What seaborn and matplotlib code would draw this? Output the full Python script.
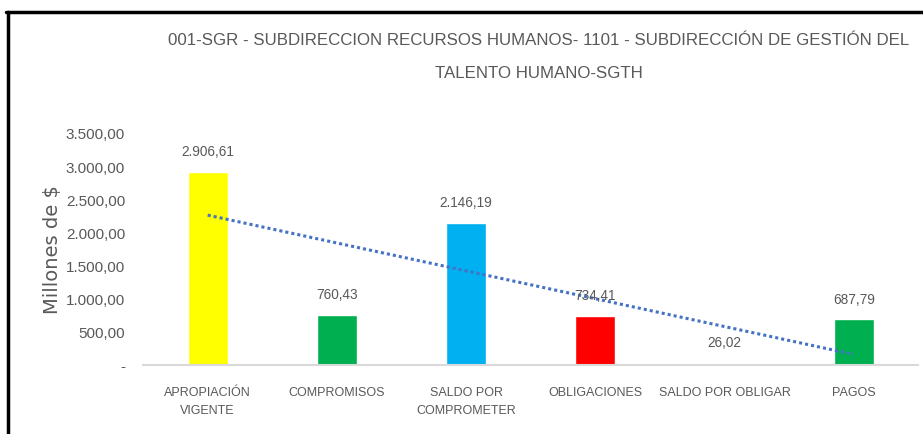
import numpy as np
import pandas as pd
import matplotlib
matplotlib.use("Agg")
import matplotlib.pyplot as plt
import seaborn as sns
from matplotlib.lines import Line2D
from matplotlib.ticker import FuncFormatter

# datos del grafico
categorias = ["APROPIACIÓN\nVIGENTE", "COMPROMISOS", "SALDO POR\nCOMPROMETER",
              "OBLIGACIONES", "SALDO POR OBLIGAR", "PAGOS"]
valores = [2906.61, 760.43, 2146.19, 734.41, 26.02, 687.79]
colores = ["#FFFF00", "#00B050", "#00B0F0", "#FF0000", "#FFC000", "#00B050"]
titulo = ("001-SGR - SUBDIRECCION RECURSOS HUMANOS- 1101 - SUBDIRECCIÓN DE GESTIÓN DEL\n"
          "TALENTO HUMANO-SGTH")

df = pd.DataFrame({"cat": categorias, "valor": valores})

sns.set_style("white")
plt.rcParams["font.family"] = ["Liberation Sans", "DejaVu Sans"]
gris = "#595959"

fig = plt.figure(figsize=(9.23, 4.35), dpi=100)
ax = fig.add_axes([0.155, 0.1586, 0.84, 0.5334])

sns.barplot(data=df, x="cat", y="valor", hue="cat", palette=colores,
            legend=False, width=0.31, ax=ax, saturation=1)

def fmt_num(v):
    s = f"{v:,.2f}"
    return s.replace(",", "X").replace(".", ",").replace("X", ".")

for i, v in enumerate(valores):
    ax.annotate(fmt_num(v), (i, v), xytext=(0, 10), textcoords="offset points",
                ha="center", va="bottom", fontsize=9.8, color=gris)

# linea de tendencia lineal
x = np.arange(len(valores))
m, b = np.polyfit(x + 1, valores, 1)
ax.plot(x, m * (x + 1) + b, linestyle=(0, (1, 1)), color="#4472C4", linewidth=2.2)

ax.set_ylim(0, 3500)
ax.set_xlim(-0.5, 5.5)
ax.set_yticks(np.arange(0, 3501, 500))
ax.yaxis.set_major_formatter(FuncFormatter(lambda v, p: "-" if v == 0 else fmt_num(v)))
ax.tick_params(axis="y", labelsize=11, colors=gris, length=0, pad=13)
ax.tick_params(axis="x", labelsize=9, colors=gris, length=0, pad=15)
plt.setp(ax.get_xticklabels(), linespacing=1.7)
ax.set_xlabel("")
ax.set_ylabel("Millones de $", fontsize=14, color=gris, family="DejaVu Sans",
              labelpad=3)
for s in ["top", "right", "left"]:
    ax.spines[s].set_visible(False)
ax.spines["bottom"].set_color("#D9D9D9")
ax.spines["bottom"].set_linewidth(1.5)

fig.text(0.584, 0.925, titulo, ha="center", va="top", fontsize=12.2, color=gris,
         linespacing=2.5)

# marco
fig.add_artist(Line2D([0.006, 1.0], [0.97, 0.97], color="black", linewidth=2.5))
fig.add_artist(Line2D([0.009, 0.009], [0.0, 0.97], color="black", linewidth=2.5))

fig.savefig("out.png", dpi=100)
